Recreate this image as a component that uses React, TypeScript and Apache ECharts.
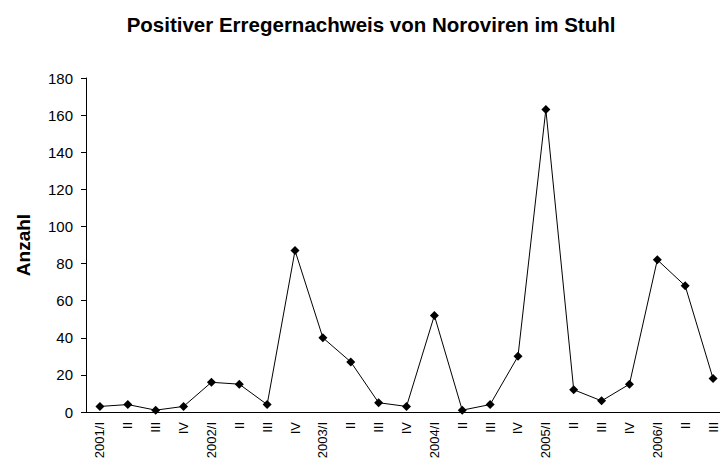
import React, { useEffect, useRef } from "react";
import * as echarts from "echarts";

const categories = [
  "2001/I", "II", "III", "IV",
  "2002/I", "II", "III", "IV",
  "2003/I", "II", "III", "IV",
  "2004/I", "II", "III", "IV",
  "2005/I", "II", "III", "IV",
  "2006/I", "II", "III",
];
const values = [3, 4, 1, 3, 16, 15, 4, 87, 40, 27, 5, 3, 52, 1, 4, 30, 163, 12, 6, 15, 82, 68, 18];
const yTicks = { min: 0, max: 180, interval: 20 };
const titleText = "Positiver Erregernachweis von Noroviren im Stuhl";
const yName = "Anzahl";

export default function App() {
  const ref = useRef<HTMLDivElement>(null);
  useEffect(() => {
    if (!ref.current) return;
    const chart = echarts.init(ref.current, undefined, { renderer: "svg" });
    const font = "Liberation Sans, Arial, sans-serif";
    chart.setOption({
      animation: false,
      backgroundColor: "#ffffff",
      title: {
        text: titleText,
        left: 366,
        textAlign: "center",
        top: 9,
        textStyle: { fontFamily: font, fontSize: 20.5, fontWeight: "bold", color: "#000" },
      },
      grid: { left: 86, width: 641, top: 78, bottom: 50, outerBoundsMode: "none", containLabel: false },
      xAxis: {
        type: "category",
        data: categories,
        boundaryGap: true,
        axisLine: { lineStyle: { color: "#000", width: 1 } },
        axisTick: { show: false },
        axisLabel: {
          rotate: 90,
          interval: 0,
          fontFamily: font,
          fontSize: 13,
          color: "#000",
          margin: 10,
        },
      },
      yAxis: {
        type: "value",
        min: yTicks.min,
        max: yTicks.max,
        interval: yTicks.interval,
        name: yName,
        nameLocation: "middle",
        nameGap: 53,
        nameTextStyle: { fontFamily: font, fontSize: 19, fontWeight: "bold", color: "#000" },
        axisLine: { show: true, lineStyle: { color: "#000", width: 1 } },
        axisTick: { show: true, length: 5, lineStyle: { color: "#000" } },
        splitLine: { show: false },
        axisLabel: { fontFamily: font, fontSize: 15, color: "#000", margin: 13 },
      },
      series: [
        {
          type: "line",
          data: values,
          symbol: "diamond",
          symbolSize: 9,
          itemStyle: { color: "#000" },
          lineStyle: { color: "#000", width: 1 },
        },
      ],
    });
    return () => chart.dispose();
  }, []);
  return (
    <div
      ref={ref}
      style={{ position: "fixed", left: 0, top: 0, width: 720, height: 462, background: "#fff" }}
    />
  );
}
